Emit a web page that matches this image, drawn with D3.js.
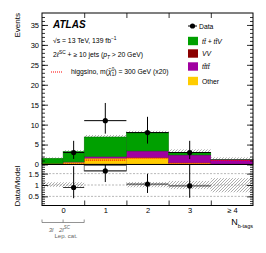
<!DOCTYPE html>
<html>
<head>
<meta charset="utf-8">
<script src="https://cdn.jsdelivr.net/npm/d3@7"></script>
<style>
  body { margin: 0; background: #fff; }
  svg { font-family: "Liberation Sans", Arial, sans-serif; }
</style>
</head>
<body>
<svg width="266" height="253"></svg>
<script>
// bins: the 0 b-tag bin is split into 3l and 2lSC
const binLo = [-0.5, 0, 0.5, 1.5, 2.5, 3.5];
const binHi = [0, 0.5, 1.5, 2.5, 3.5, 4.5];
// stacked backgrounds, bottom to top
const vv = [0.25, 0.15, 0.15, 0.1, 0.05, 0.03];
const other = [0.05, 0.45, 1.45, 1.6, 0.35, 0.1];
const tttt = [0.0, 0.05, 0.4, 1.7, 2.0, 1.15];
const ttv = [1.25, 2.6, 4.9, 4.65, 0.55, 0.02];
const totErr = [0.25, 0.35, 0.5, 0.4, 0.85, 0.5];
const signal = [0, 0.1, 1.1, 1.55, 0.3, 1.0];

// data points
const dataX = [0.25, 1, 2, 3];
const dataHalfW = [0.25, 0.5, 0.5, 0.5];
const dataY = [3, 11, 8, 3];
const dataLo = [1.37, 7.74, 5.24, 1.37];
const dataHi = [5.94, 15.43, 11.96, 5.94];

// ratio panel
const ratioY = [0.89, 1.62, 1.04, 0.96];
const ratioLo = [0.42, 1.13, 0.65, 0.44];
const ratioHi = [1.82, 2.23, 1.49, 2.0];
const bandX = [0, 2, 3, 4];
const bandLo = [0.92, 0.9, 0.82, 0.68];
const bandHi = [1.12, 1.13, 1.18, 1.3];

const xTicks = [0, 1, 2, 3, 4];
const xTickLabels = ["0", "1", "2", "3", "\u2265 4"];
const yTicks = [0, 5, 10, 15, 20, 25, 30, 35];
const rTicks = [0.5, 1, 1.5];

const colors = { ttv: "#00a000", vv: "#8b0000", tttt: "#a000a0", other: "#ffcc00" };
const strokes = { ttv: "#007000", vv: "#500000", tttt: "#700070", other: "#d09000" };

const L = 42, R = 253, T = 13, MB = 164.5, RB = 205.5;

const svg = d3.select("svg");
const defs = svg.append("defs");
const pat = defs.append("pattern").attr("id", "hatch").attr("patternUnits", "userSpaceOnUse")
  .attr("width", 3).attr("height", 3);
pat.append("path").attr("d", "M-1,1 l2,-2 M0,3 l3,-3 M2,4 l2,-2")
  .attr("stroke", "#777").attr("stroke-width", 0.6);
defs.append("clipPath").attr("id", "clipR").append("rect")
  .attr("x", L).attr("y", MB).attr("width", R - L).attr("height", RB - MB);

const x = d3.scaleLinear().domain([-0.5, 4.5]).range([L, R]);
const y = d3.scaleLinear().domain([0, 38]).range([MB, T]);
const yr = d3.scaleLinear().domain([0.1, 1.9]).range([RB, MB]);

// uncertainty band in main panel (drawn first, stacks cover lower half)
const totals = binLo.map((d, i) => vv[i] + other[i] + tttt[i] + ttv[i]);
svg.append("g").selectAll("rect").data(binLo).join("rect")
  .attr("x", (d, i) => x(binLo[i])).attr("width", (d, i) => x(binHi[i]) - x(binLo[i]))
  .attr("y", (d, i) => y(totals[i] + totErr[i]))
  .attr("height", (d, i) => y(totals[i] - totErr[i]) - y(totals[i] + totErr[i]))
  .attr("fill", "url(#hatch)");

// stacks
const layers = [["vv", vv], ["other", other], ["tttt", tttt], ["ttv", ttv]];
const base = binLo.map(() => 0);
layers.forEach(([k, vals]) => {
  const g = svg.append("g");
  vals.forEach((v, i) => {
    if (v <= 0) return;
    g.append("rect")
      .attr("x", x(binLo[i])).attr("width", x(binHi[i]) - x(binLo[i]))
      .attr("y", y(base[i] + v)).attr("height", y(base[i]) - y(base[i] + v))
      .attr("fill", colors[k]).attr("stroke", strokes[k]).attr("stroke-width", 0.5);
    base[i] += v;
  });
});

// signal, dotted red
svg.append("g").selectAll("line").data(signal.map((s, i) => i).filter(i => signal[i] > 0.05)).join("line")
  .attr("x1", i => x(binLo[i])).attr("x2", i => x(binHi[i]))
  .attr("y1", i => y(signal[i])).attr("y2", i => y(signal[i]))
  .attr("stroke", "#ff0000").attr("stroke-width", 1.1).attr("stroke-dasharray", "1,1");

// data points
const gd = svg.append("g");
dataX.forEach((dx, i) => {
  gd.append("line").attr("x1", x(dx - dataHalfW[i])).attr("x2", x(dx + dataHalfW[i]))
    .attr("y1", y(dataY[i])).attr("y2", y(dataY[i])).attr("stroke", "#000");
  gd.append("line").attr("x1", x(dx)).attr("x2", x(dx))
    .attr("y1", y(dataLo[i])).attr("y2", y(dataHi[i])).attr("stroke", "#000");
  gd.append("circle").attr("cx", x(dx)).attr("cy", y(dataY[i])).attr("r", 2.6).attr("fill", "#000");
});

// ratio panel
const gr = svg.append("g").attr("clip-path", "url(#clipR)");
rTicks.forEach(t => {
  gr.append("line").attr("x1", L).attr("x2", R).attr("y1", yr(t)).attr("y2", yr(t))
    .attr("stroke", "#999").attr("stroke-width", 0.7).attr("stroke-dasharray", "2,1.5");
});
bandX.forEach((b, i) => {
  gr.append("rect").attr("x", x(b - 0.5)).attr("width", x(b + 0.5) - x(b - 0.5))
    .attr("y", yr(bandHi[i])).attr("height", yr(bandLo[i]) - yr(bandHi[i]))
    .attr("fill", "url(#hatch)");
});
// overflow box of bin 1
gr.append("rect").attr("x", x(0.5)).attr("width", x(1.5) - x(0.5))
  .attr("y", yr(1.9) + 1).attr("height", yr(ratioY[1]) - yr(1.9) - 1)
  .attr("fill", "none").attr("stroke", "#555").attr("stroke-width", 0.8);
dataX.forEach((dx, i) => {
  gr.append("line").attr("x1", x(dx - dataHalfW[i])).attr("x2", x(dx + dataHalfW[i]))
    .attr("y1", yr(ratioY[i])).attr("y2", yr(ratioY[i])).attr("stroke", "#333");
  gr.append("line").attr("x1", x(dx)).attr("x2", x(dx))
    .attr("y1", yr(ratioLo[i])).attr("y2", yr(ratioHi[i])).attr("stroke", "#000");
  gr.append("circle").attr("cx", x(dx)).attr("cy", yr(ratioY[i])).attr("r", 2.6).attr("fill", "#000");
});

// axes
function styleAxis(g) {
  g.select(".domain").remove();
  g.selectAll("line").attr("stroke", "#000").attr("stroke-width", 0.8);
  g.selectAll("text").attr("font-size", 7.5).attr("fill", "#000");
}
svg.append("g").attr("transform", `translate(${L},0)`)
  .call(d3.axisLeft(y).tickValues(yTicks).tickSize(-6).tickPadding(3)).call(styleAxis);
svg.append("g").attr("transform", `translate(${L},0)`)
  .call(d3.axisLeft(y).tickValues(d3.range(0, 38, 1)).tickSize(-3).tickFormat("")).call(styleAxis);
svg.append("g").attr("transform", `translate(${R},0)`)
  .call(d3.axisRight(y).tickValues(yTicks).tickSize(-6).tickFormat("")).call(styleAxis);
svg.append("g").attr("transform", `translate(${R},0)`)
  .call(d3.axisRight(y).tickValues(d3.range(0, 38, 1)).tickSize(-3).tickFormat("")).call(styleAxis);

svg.append("g").attr("transform", `translate(${L},0)`)
  .call(d3.axisLeft(yr).tickValues(rTicks).tickSize(-6).tickPadding(3).tickFormat(d3.format("~g"))).call(styleAxis);
svg.append("g").attr("transform", `translate(${L},0)`)
  .call(d3.axisLeft(yr).tickValues(d3.range(0.2, 1.9, 0.1)).tickSize(-3).tickFormat("")).call(styleAxis);
svg.append("g").attr("transform", `translate(${R},0)`)
  .call(d3.axisRight(yr).tickValues(rTicks).tickSize(-6).tickFormat("")).call(styleAxis);
svg.append("g").attr("transform", `translate(${R},0)`)
  .call(d3.axisRight(yr).tickValues(d3.range(0.2, 1.9, 0.1)).tickSize(-3).tickFormat("")).call(styleAxis);

// x: ticks at bin edges, labels at bin centres
svg.append("g").attr("transform", `translate(0,${T})`)
  .call(d3.axisTop(x).tickValues([0.5, 1.5, 2.5, 3.5]).tickSize(-5).tickFormat("")).call(styleAxis);
svg.append("g").attr("transform", `translate(0,${RB})`)
  .call(d3.axisBottom(x).tickValues([0.5, 1.5, 2.5, 3.5]).tickSize(-5).tickFormat("")).call(styleAxis);
svg.append("g").attr("transform", `translate(0,${RB})`)
  .call(d3.axisBottom(x).tickValues(xTicks).tickSize(0).tickPadding(2.5).tickFormat((d, i) => xTickLabels[i]))
  .call(styleAxis);

// frames
svg.append("rect").attr("x", L).attr("y", T).attr("width", R - L).attr("height", RB - T)
  .attr("fill", "none").attr("stroke", "#000").attr("stroke-width", 1);
svg.append("line").attr("x1", L).attr("x2", R).attr("y1", MB).attr("y2", MB)
  .attr("stroke", "#000").attr("stroke-width", 1);

// axis titles
svg.append("text").attr("transform", "translate(20,13) rotate(-90)")
  .attr("text-anchor", "end").attr("font-size", 8).text("Events");
svg.append("text").attr("transform", `translate(20,${(MB + RB) / 2 + 1}) rotate(-90)`)
  .attr("text-anchor", "middle").attr("font-size", 8).text("Data/Model");
const xt = svg.append("text").attr("x", R).attr("y", 225).attr("text-anchor", "end").attr("font-size", 9);
xt.append("tspan").text("N");
xt.append("tspan").attr("dy", 2.5).attr("font-size", 5.5).text("b-tags");

// lepton category bracket under bin 0
const gb = svg.append("g").attr("stroke", "#666").attr("stroke-width", 0.7);
gb.append("line").attr("x1", x(-0.5)).attr("x2", x(0.5)).attr("y1", 222.5).attr("y2", 222.5);
[-0.5, 0, 0.5].forEach(v => gb.append("line").attr("x1", x(v)).attr("x2", x(v)).attr("y1", 222.5).attr("y2", 219.5));
svg.append("text").attr("x", 51).attr("y", 231.5).attr("text-anchor", "middle").attr("font-size", 6)
  .attr("font-style", "italic").attr("fill", "#666").text("3l");
const t2 = svg.append("text").attr("x", 59).attr("y", 231.5).attr("font-size", 6)
  .attr("font-style", "italic").attr("fill", "#666");
t2.append("tspan").text("2l");
t2.append("tspan").attr("dy", -2.5).attr("font-size", 4.5).text("SC");
svg.append("text").attr("x", 66).attr("y", 238).attr("text-anchor", "middle").attr("font-size", 6)
  .attr("fill", "#666").text("Lep. cat.");

// labels top-left
svg.append("text").attr("x", 53).attr("y", 28).attr("font-size", 10).attr("font-weight", "bold")
  .attr("font-style", "italic").text("ATLAS");
const t3 = svg.append("text").attr("x", 53).attr("y", 43).attr("font-size", 6.8);
t3.append("tspan").text("\u221As = 13 TeV, 139 fb");
t3.append("tspan").attr("dy", -3).attr("font-size", 4.8).text("\u22121");
const t4 = svg.append("text").attr("x", 53).attr("y", 57).attr("font-size", 6.8);
t4.append("tspan").text("2");
t4.append("tspan").attr("font-style", "italic").text("\u2113");
t4.append("tspan").attr("dy", -3).attr("font-size", 4.8).text("SC");
t4.append("tspan").attr("dy", 3).text(" + \u2265 10 jets (");
t4.append("tspan").attr("font-style", "italic").text("p");
t4.append("tspan").attr("dy", 1.8).attr("font-size", 4.8).attr("font-style", "italic").text("T");
t4.append("tspan").attr("dy", -1.8).text(" > 20 GeV)");
svg.append("line").attr("x1", 51).attr("x2", 63).attr("y1", 72).attr("y2", 72)
  .attr("stroke", "#ff0000").attr("stroke-width", 1.1).attr("stroke-dasharray", "1,1");
const t5 = svg.append("text").attr("x", 71).attr("y", 74).attr("font-size", 6.8);
t5.append("tspan").text("higgsino, m(");
t5.append("tspan").attr("font-style", "italic").text("\u03C7\u0303");
t5.append("tspan").attr("dy", 1.8).attr("font-size", 4.5).text("1");
t5.append("tspan").attr("dy", -4.5).attr("dx", -2.5).attr("font-size", 4.5).text("0");
t5.append("tspan").attr("dy", 2.7).text(") = 300 GeV (x20)");

// legend
const lg = svg.append("g");
lg.append("line").attr("x1", 188).attr("x2", 197).attr("y1", 26).attr("y2", 26).attr("stroke", "#000");
lg.append("circle").attr("cx", 192.5).attr("cy", 26).attr("r", 2.6);
lg.append("text").attr("x", 199).attr("y", 28.5).attr("font-size", 6.8).text("Data");
const legItems = [
  ["ttv", "tt\u0304 + tt\u0304V", 41],
  ["vv", "VV", 53.5],
  ["tttt", "tt\u0304tt\u0304", 66.5],
  ["other", "Other", 81]
];
legItems.forEach(([k, label, cy]) => {
  lg.append("rect").attr("x", 188).attr("y", cy - 4.2).attr("width", 10).attr("height", 8.4)
    .attr("fill", colors[k]);
  lg.append("text").attr("x", 202).attr("y", cy + 2.5).attr("font-size", 6.8)
    .attr("font-style", k === "other" ? "normal" : "italic").text(label);
});
</script>
</body>
</html>
